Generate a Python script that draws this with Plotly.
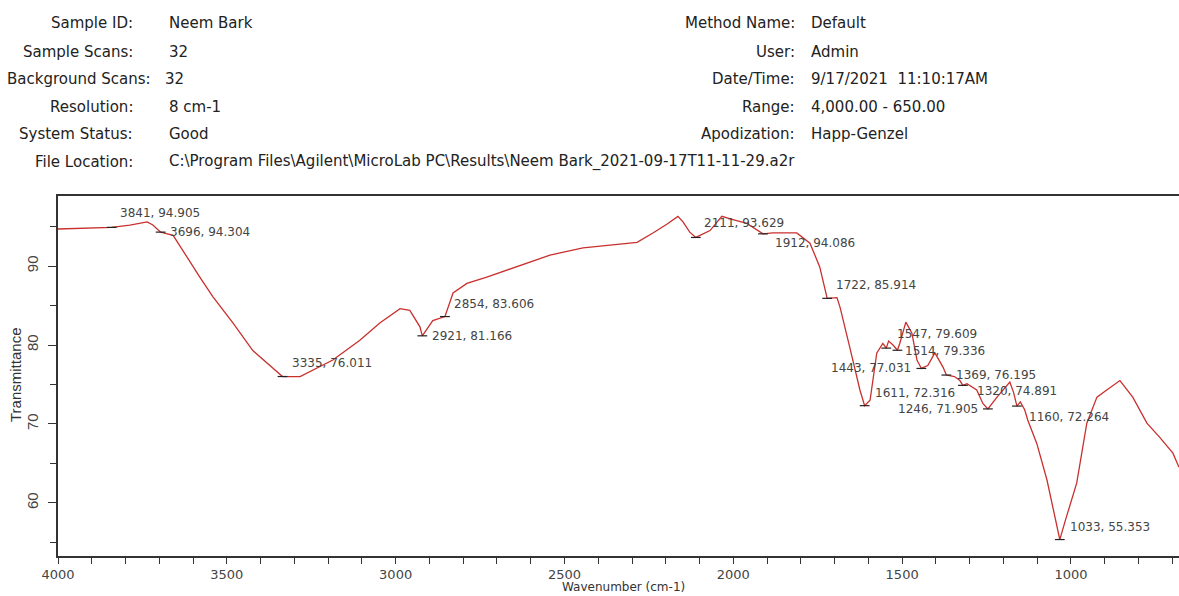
import plotly.graph_objects as go

# ---------------- data ----------------
wavenumber = [4000, 3935, 3876, 3841, 3787, 3736, 3719, 3696, 3659, 3618, 3580, 3541, 3482,
              3423, 3381, 3335, 3283, 3245, 3186, 3106, 3047, 2987, 2958, 2928, 2921, 2890,
              2854, 2830, 2789, 2730, 2641, 2543, 2445, 2345, 2285, 2238, 2197, 2164, 2149,
              2129, 2111, 2069, 2034, 2001, 1960, 1912, 1883, 1812, 1773, 1744, 1722, 1693,
              1684, 1655, 1625, 1611, 1595, 1575, 1557, 1547, 1540, 1527, 1514, 1507, 1489,
              1471, 1456, 1443, 1424, 1403, 1379, 1369, 1345, 1329, 1320, 1308, 1279, 1261,
              1246, 1219, 1181, 1170, 1160, 1150, 1137, 1128, 1101, 1071, 1050, 1033, 1015,
              983, 953, 923, 894, 855, 817, 775, 737, 698, 680]
transmittance = [94.7, 94.8, 94.9, 94.905, 95.2, 95.6, 95.2, 94.304, 93.9, 91.1, 88.6, 86.1, 82.8,
                 79.3, 77.7, 76.011, 76.0, 76.8, 78.1, 80.6, 82.8, 84.6, 84.4, 82.3, 81.166, 83.1,
                 83.606, 86.6, 87.8, 88.6, 89.9, 91.4, 92.3, 92.7, 93.0, 94.2, 95.3, 96.3, 95.6,
                 94.3, 93.629, 94.5, 96.3, 95.9, 95.4, 94.086, 94.2, 94.2, 92.9, 89.9, 85.914, 86.0,
                 84.8, 79.7, 74.3, 72.316, 73.0, 79.0, 80.2, 79.609, 80.5, 80.0, 79.336, 80.2, 82.9,
                 81.5, 78.1, 77.031, 77.4, 79.0, 77.2, 76.195, 76.0, 75.5, 74.891, 75.1, 74.3, 72.6,
                 71.905, 73.4, 75.3, 74.0, 72.264, 72.8, 71.8, 70.5, 67.5, 62.9, 58.5, 55.353, 58.0,
                 62.5, 70.1, 73.4, 74.3, 75.5, 73.4, 70.1, 68.3, 66.3, 64.5]

peak_wn = [3841, 3696, 3335, 2921, 2854, 2111, 1912, 1722, 1611, 1547, 1514, 1443, 1369,
           1320, 1246, 1160, 1033]
peak_t = [94.905, 94.304, 76.011, 81.166, 83.606, 93.629, 94.086, 85.914, 72.316, 79.609,
          79.336, 77.031, 76.195, 74.891, 71.905, 72.264, 55.353]

header_left_labels = ["Sample ID:", "Sample Scans:", "Background Scans:", "Resolution:",
                      "System Status:", "File Location:"]
header_left_values = ["Neem Bark", "32", "32", "8 cm-1", "Good",
                      "C:\\Program Files\\Agilent\\MicroLab PC\\Results\\Neem Bark_2021-09-17T11-11-29.a2r"]
header_right_labels = ["Method Name:", "User:", "Date/Time:", "Range:", "Apodization:"]
header_right_values = ["Default", "Admin", "9/17/2021  11:10:17AM", "4,000.00 - 650.00", "Happ-Genzel"]

x_tick_labels = ["4000", "3500", "3000", "2500", "2000", "1500", "1000"]
x_tick_vals = [4000, 3500, 3000, 2500, 2000, 1500, 1000]
y_tick_vals = [60, 70, 80, 90]

# ---------------- layout constants ----------------
W, H = 1179, 596
L, R, T, B = 58, 0, 196, 40
PW, PH = W - L - R, H - T - B

def px(x):
    return (x - L) / PW

def py(y):
    return (H - B - y) / PH

# label placement (anchor side, xshift, yshift) per peak, in pixels
label_place = [("left", 6, 14), ("left", 7, 0), ("left", 7, 14), ("left", 8, 0), ("left", 7, 13),
               ("left", 6, 14), ("left", 10, -9), ("left", 7, 13), ("left", 8, 13), ("left", 9, 14),
               ("left", 6, -1), ("right", -8, 0), ("left", 8, 0), ("left", 12, -6), ("right", -8, 0),
               ("left", 10, -11), ("left", 8, 13)]

fig = go.Figure()
fig.add_trace(go.Scatter(x=wavenumber, y=transmittance, mode="lines",
                         line=dict(color="#c8302e", width=1.3), hoverinfo="skip", showlegend=False))
fig.add_trace(go.Scatter(x=peak_wn, y=peak_t, mode="markers",
                         marker=dict(symbol="line-ew", size=7, line=dict(color="#222", width=1.2)),
                         showlegend=False))

ann = []
lab_font = dict(family="DejaVu Sans", size=12, color="#444")
for w, t, (side, xs, ys) in zip(peak_wn, peak_t, label_place):
    ann.append(dict(x=w, y=t, xref="x", yref="y", text=f"{w}, {t:.3f}", showarrow=False,
                    xanchor=side, yanchor="middle", xshift=xs, yshift=ys, font=lab_font))

hdr_font = dict(family="DejaVu Sans", size=15, color="#222")
rows = [23, 52, 79, 107, 134, 162]
for i, (lab, val) in enumerate(zip(header_left_labels, header_left_values)):
    rx = 153 if lab.startswith("Background") else 135
    vx = 163 if lab.startswith("Background") else 167
    ann.append(dict(x=px(rx), y=py(rows[i]), xref="paper", yref="paper", text=lab, showarrow=False,
                    xanchor="right", yanchor="middle", font=hdr_font))
    ann.append(dict(x=px(vx), y=py(rows[i]), xref="paper", yref="paper", text=val, showarrow=False,
                    xanchor="left", yanchor="middle", font=hdr_font))
for i, (lab, val) in enumerate(zip(header_right_labels, header_right_values)):
    ann.append(dict(x=px(797), y=py(rows[i]), xref="paper", yref="paper", text=lab, showarrow=False,
                    xanchor="right", yanchor="middle", font=hdr_font))
    ann.append(dict(x=px(809), y=py(rows[i]), xref="paper", yref="paper", text=val, showarrow=False,
                    xanchor="left", yanchor="middle", font=hdr_font))

# axis titles
ann.append(dict(x=px(623), y=py(587), xref="paper", yref="paper", text="Wavenumber (cm-1)",
                showarrow=False, xanchor="center", yanchor="middle",
                font=dict(family="DejaVu Sans", size=12, color="#333")))
ann.append(dict(x=px(15), y=py(375), xref="paper", yref="paper", text="Transmittance",
                showarrow=False, xanchor="center", yanchor="middle", textangle=-90,
                font=dict(family="Liberation Sans", size=15, color="#333")))

fig.update_layout(
    width=W, height=H, margin=dict(l=L, r=R, t=T, b=B),
    paper_bgcolor="white", plot_bgcolor="white",
    annotations=ann, showlegend=False,
)
fig.update_xaxes(range=[4000, 680], autorange=False, tickmode="array", tickvals=x_tick_vals,
                 ticktext=x_tick_labels, ticks="outside", ticklen=5, tickwidth=1.3, tickcolor="#333",
                 showline=True, linecolor="#333", linewidth=2, mirror=True, showgrid=False,
                 zeroline=False, tickfont=dict(family="DejaVu Sans", size=13, color="#444"),
                 minor=dict(dtick=100, tick0=0, ticks="outside", ticklen=6, tickwidth=1.3,
                            tickcolor="#333", showgrid=False))
fig.update_yaxes(range=[53.27, 98.88], autorange=False, tickmode="array", tickvals=y_tick_vals,
                 ticks="outside", ticklen=8, tickwidth=1.3, tickcolor="#333", tickangle=-90,
                 ticklabelstandoff=4,
                 showline=True, linecolor="#333", linewidth=2, mirror=False, showgrid=False,
                 zeroline=False, tickfont=dict(family="Liberation Sans", size=15, color="#444"),
                 minor=dict(dtick=5, tick0=0, ticks="outside", ticklen=6, tickwidth=1.3,
                            tickcolor="#333", showgrid=False))

fig.write_html("out.html", config={"displayModeBar": False},
               post_script="document.body.style.margin='0';document.body.style.padding='0';"
                           "document.body.style.overflow='hidden';")
